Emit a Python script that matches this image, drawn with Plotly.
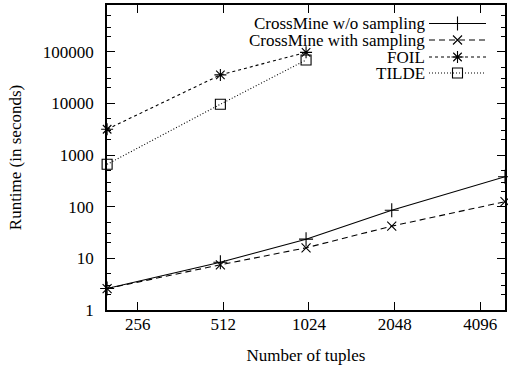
import numpy as np
import plotly.graph_objects as go

# ---- data ----
tuples = [200, 500, 1000, 2000, 5000]
crossmine_wo = [2.6, 8.4, 23.5, 85, 380]
crossmine_with = [2.6, 7.5, 16, 42, 125]
tuples_short = [200, 500, 1000]
foil = [3150, 35500, 97000]
tilde = [660, 9600, 69000]

x_ticks = [256, 512, 1024, 2048, 4096]
y_ticks = [1, 10, 100, 1000, 10000, 100000]

series_names = ["CrossMine w/o sampling", "CrossMine with sampling", "FOIL", "TILDE"]

FONT = "Liberation Serif, Times New Roman, Times, DejaVu Serif, serif"
FS = 17

# layout geometry
W, H = 508, 369
L, R, T, B = 107, 3, 5, 59

styles = [
    dict(dash="solid", symbol="cross-thin-open", size=10),
    dict(dash="6px,4px", symbol="x-thin-open", size=9),
    dict(dash="3px,3px", symbol="asterisk-open", size=10),
    dict(dash="1px,2px", symbol="square-open", size=10),
]

fig = go.Figure()
data_sets = [
    (tuples, crossmine_wo),
    (tuples, crossmine_with),
    (tuples_short, foil),
    (tuples_short, tilde),
]
for name, (xs, ys), st in zip(series_names, data_sets, styles):
    fig.add_trace(go.Scatter(
        x=xs, y=ys, name=name, mode="lines+markers",
        line=dict(color="black", width=1.1, dash=st["dash"]),
        marker=dict(symbol=st["symbol"], size=st["size"], color="black",
                    line=dict(color="black", width=1.1)),
        cliponaxis=False, showlegend=False,
    ))

# ---- custom gnuplot-style legend (text right-aligned, sample on the right) ----
pw = W - L - R
ph = H - T - B
def px2paper(px, py):
    return (px - L) / pw, (H - B - py) / ph

text_right_px = 426
sample_x0_px, sample_x1_px = 429, 486
row_y_px = [23.5, 40, 57, 73]
for name, st, ry in zip(series_names, styles, row_y_px):
    tx, ty = px2paper(text_right_px, ry)
    fig.add_annotation(x=tx, y=ty, xref="paper", yref="paper", text=name,
                       showarrow=False, xanchor="right", yanchor="middle",
                       borderpad=0,
                       font=dict(family=FONT, size=FS, color="black"))
    x0, _ = px2paper(sample_x0_px, ry)
    x1, _ = px2paper(sample_x1_px, ry)
    fig.add_shape(type="line", xref="paper", yref="paper", x0=x0, x1=x1, y0=ty, y1=ty,
                  line=dict(color="black", width=1.1, dash=st["dash"]))
    fig.add_trace(go.Scatter(
        x=[(x0 + x1) / 2], y=[ty], xaxis="x2", yaxis="y2", mode="markers",
        marker=dict(symbol=st["symbol"], size=st["size"], color="black",
                    line=dict(color="black", width=1.1)),
        cliponaxis=False, showlegend=False, hoverinfo="skip"))

axis_common = dict(
    showline=True, linecolor="black", linewidth=1.5, mirror="ticks",
    ticks="inside", ticklen=8, tickwidth=1, tickcolor="black",
    showgrid=False, zeroline=False,
    tickfont=dict(family=FONT, size=FS, color="black"),
)

fig.update_layout(
    width=W, height=H,
    margin=dict(l=L, r=R, t=T, b=B, autoexpand=False),
    paper_bgcolor="white", plot_bgcolor="white",
    showlegend=False,
    font=dict(family=FONT, size=FS, color="black"),
    xaxis=dict(
        type="log", range=[np.log10(199.8), np.log10(5000)],
        tickmode="array", tickvals=x_ticks, ticktext=[str(v) for v in x_ticks],
        ticklabelstandoff=-2,
        title=dict(text="Number of tuples", font=dict(family=FONT, size=FS, color="black"), standoff=16),
        **axis_common,
    ),
    yaxis=dict(
        type="log", range=[0, np.log10(800000)],
        tickmode="array", tickvals=y_ticks, ticktext=[str(v) for v in y_ticks],
        ticklabelstandoff=8,
        minor=dict(ticks="inside", ticklen=4, tickcolor="black", tickwidth=1,
                   tickmode="array",
                   tickvals=[m * 10 ** e for e in range(0, 6) for m in (2, 3, 5)]),
        title=dict(text="Runtime (in seconds)", font=dict(family=FONT, size=FS, color="black"), standoff=17),
        **axis_common,
    ),
    xaxis2=dict(range=[0, 1], overlaying="x", visible=False),
    yaxis2=dict(range=[0, 1], overlaying="y", visible=False),
)

fig.write_html("out.html")
